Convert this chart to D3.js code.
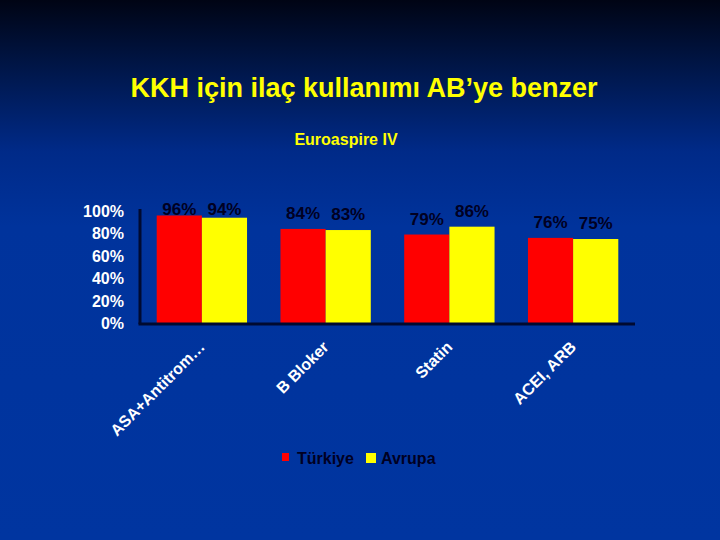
<!DOCTYPE html>
<html>
<head>
<meta charset="utf-8">
<script src="https://d3js.org/d3.v7.min.js"></script>
<style>
  body { margin: 0; }
  svg { display: block; }
</style>
</head>
<body>
<script>
  const categories = ['ASA+Antitrom…', 'B Bloker', 'Statin', 'ACEI, ARB'];
  const turkiye = [96, 84, 79, 76];
  const avrupa = [94, 83, 86, 75];
  const seriesNames = ['Türkiye', 'Avrupa'];
  const yTicks = [0, 20, 40, 60, 80, 100];

  const W = 720, H = 540;
  const colors = ['#ff0000', '#ffff00'];

  const svg = d3.select('body').append('svg')
    .attr('width', W)
    .attr('height', H);

  // background gradient
  const grad = svg.append('defs').append('linearGradient')
    .attr('id', 'bg')
    .attr('x1', 0).attr('y1', 0).attr('x2', 0).attr('y2', 1);
  grad.append('stop').attr('offset', '0%').attr('stop-color', '#000414');
  grad.append('stop').attr('offset', '11%').attr('stop-color', '#001442');
  grad.append('stop').attr('offset', '28%').attr('stop-color', '#002a88');
  grad.append('stop').attr('offset', '42%').attr('stop-color', '#00339c');
  grad.append('stop').attr('offset', '100%').attr('stop-color', '#0035a0');

  svg.append('rect')
    .attr('width', W)
    .attr('height', H)
    .attr('fill', 'url(#bg)');

  // titles
  svg.append('text')
    .attr('x', 364)
    .attr('y', 97)
    .attr('text-anchor', 'middle')
    .attr('fill', '#ffff00')
    .style('font', 'bold 27px "Liberation Sans", Arial, sans-serif')
    .text('KKH için ilaç kullanımı AB’ye benzer');

  svg.append('text')
    .attr('x', 346)
    .attr('y', 145)
    .attr('text-anchor', 'middle')
    .attr('fill', '#ffff00')
    .style('font', 'bold 16px "Liberation Sans", Arial, sans-serif')
    .text('Euroaspire IV');

  // scales
  const plotLeft = 140, plotRight = 635, plotBase = 323, plotTop = 211;

  const x = d3.scaleBand()
    .domain(categories)
    .range([plotLeft, plotRight])
    .paddingInner(0.27)
    .paddingOuter(0.135);

  const x1 = d3.scaleBand()
    .domain(seriesNames)
    .range([0, x.bandwidth()]);

  const y = d3.scaleLinear()
    .domain([0, 100])
    .range([plotBase, plotTop]);

  // y tick labels
  svg.append('g')
    .selectAll('text')
    .data(yTicks)
    .join('text')
      .attr('x', 124)
      .attr('y', d => y(d) + 6)
      .attr('text-anchor', 'end')
      .attr('fill', '#ffffff')
      .style('font', 'bold 16px "Liberation Sans", Arial, sans-serif')
      .text(d => d + '%');

  // bars
  const rows = [];
  categories.forEach((c, i) => {
    rows.push({ cat: c, s: seriesNames[0], v: turkiye[i], col: colors[0] });
    rows.push({ cat: c, s: seriesNames[1], v: avrupa[i], col: colors[1] });
  });

  svg.append('g')
    .selectAll('rect')
    .data(rows)
    .join('rect')
      .attr('x', d => x(d.cat) + x1(d.s))
      .attr('y', d => y(d.v))
      .attr('width', x1.bandwidth())
      .attr('height', d => plotBase - y(d.v))
      .attr('fill', d => d.col);

  // value labels
  svg.append('g')
    .selectAll('text')
    .data(rows)
    .join('text')
      .attr('x', d => x(d.cat) + x1(d.s) + x1.bandwidth() / 2)
      .attr('y', d => Math.max(y(d.v) - 10, plotTop + 4))
      .attr('text-anchor', 'middle')
      .attr('fill', '#000022')
      .style('font', 'bold 17px "Liberation Sans", Arial, sans-serif')
      .text(d => d.v + '%');

  // axes lines
  svg.append('line')
    .attr('x1', plotLeft).attr('x2', plotLeft)
    .attr('y1', 209).attr('y2', plotBase + 1)
    .attr('stroke', '#000a30')
    .attr('stroke-width', 3);

  svg.append('line')
    .attr('x1', plotLeft - 1.5).attr('x2', plotRight)
    .attr('y1', plotBase + 1).attr('y2', plotBase + 1)
    .attr('stroke', '#000a30')
    .attr('stroke-width', 3);

  // category labels
  svg.append('g')
    .selectAll('text')
    .data(categories)
    .join('text')
      .attr('transform', d => `translate(${x(d) + x.bandwidth() / 2 + 4}, 348) rotate(-45)`)
      .attr('text-anchor', 'end')
      .attr('fill', '#ffffff')
      .style('font', 'bold 16px "Liberation Sans", Arial, sans-serif')
      .text(d => d);

  // legend
  const legend = svg.append('g')
    .attr('transform', 'translate(282, 464)');

  const lx = [0, 84];
  seriesNames.forEach((s, i) => {
    legend.append('rect')
      .attr('x', lx[i])
      .attr('y', -11)
      .attr('width', i === 0 ? 7 : 10)
      .attr('height', i === 0 ? 8 : 10)
      .attr('fill', colors[i]);
    legend.append('text')
      .attr('x', lx[i] + 15)
      .attr('y', 0)
      .attr('fill', '#000022')
      .style('font', 'bold 16px "Liberation Sans", Arial, sans-serif')
      .text(s);
  });
</script>
</body>
</html>
